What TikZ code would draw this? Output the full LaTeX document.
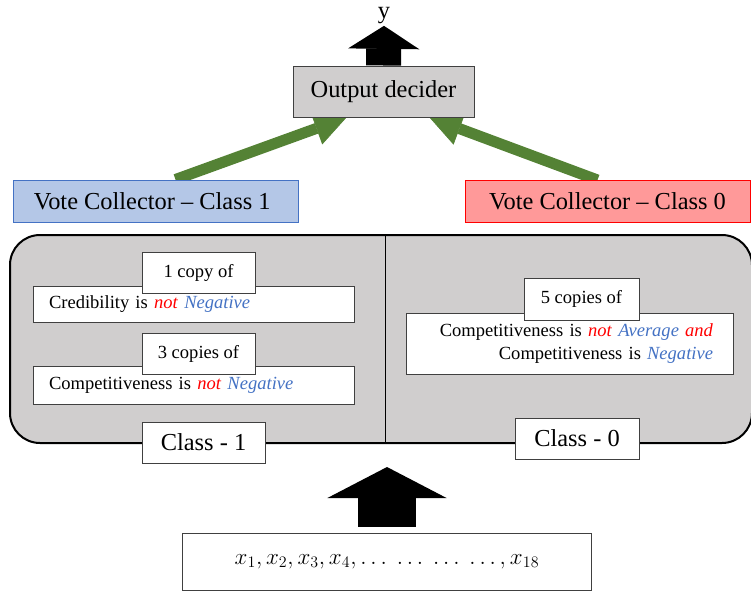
\documentclass[tikz,border=0pt]{standalone}
\usepackage{fontspec}
\setmainfont{Liberation Serif}
\usetikzlibrary{arrows.meta,backgrounds}

\definecolor{panelgray}{HTML}{D0CECE}
\definecolor{boxedge}{HTML}{404040}
\definecolor{vcblue}{HTML}{B4C7E7}
\definecolor{vcblueedge}{HTML}{4472C4}
\definecolor{vcred}{HTML}{FF9999}
\definecolor{vcrededge}{HTML}{FF0000}
\definecolor{arrowgreen}{HTML}{548235}
\definecolor{valblue}{HTML}{4472C4}

\newcommand{\bigtext}{\fontsize{18.3}{22}\selectfont}
\newcommand{\smalltext}{\fontsize{13.9}{17.25}\selectfont}
\newcommand{\notword}{\textcolor{red}{\textit{not}}}
\newcommand{\valword}[1]{\textcolor{valblue}{\textit{#1}}}

\tikzset{
  labelbox/.style={draw=boxedge, fill=white, line width=0.75pt, inner sep=0pt, minimum height=30.75pt, font=\smalltext},
  stmtbox/.style={draw=boxedge, fill=white, line width=0.75pt, inner xsep=12pt, inner ysep=0pt, text width=216.75pt, align=left, font=\smalltext},
  classbox/.style={draw=boxedge, fill=white, line width=0.75pt, inner sep=0pt, minimum width=92.25pt, minimum height=30.75pt, font=\bigtext},
  votebox/.style={draw=#1edge, fill=#1, line width=0.75pt, minimum width=213.75pt, minimum height=31.5pt, font=\bigtext},
  greenarrow/.style={draw=arrowgreen, line width=8.25pt, -{Triangle[length=24pt,width=25.5pt,line width=0.5pt]}}
}

\begin{document}
\begin{tikzpicture}[x=0.75pt,y=-0.75pt]
\useasboundingbox (0,0) rectangle (751,594);
% Output side
\node[font=\bigtext, inner sep=0pt] (yout) at (384,16) {y};
\node[draw=boxedge, fill=panelgray, line width=0.75pt, minimum width=135.75pt, minimum height=38.25pt, font=\bigtext] (dec) at (383.5,91.5) {Output decider};
\draw[line width=26.25pt, -{Triangle[length=17.25pt,width=53.25pt,line width=1pt]}, shorten >=1pt] (dec.north) -- (yout.south);
% Votes into the decider
\node[votebox=vcblue] (vc1) at (155.5,201) {Vote Collector -- Class 1\hspace*{5pt}};
\node[votebox=vcred] (vc0) at (607.5,201.5) {Vote Collector -- Class 0};
\begin{scope}[on background layer]
\draw[greenarrow] ([xshift=15pt]vc1.north) -- ([xshift=-27.75pt]dec.south);
\draw[greenarrow] ([xshift=-7.5pt]vc0.north) -- ([xshift=34.5pt]dec.south);
\end{scope}
% Rule panel
\node[draw, fill=panelgray, line width=1.5pt, rounded corners=22.5pt, minimum width=556.5pt, minimum height=156pt] (panel) at (381,339) {};
\draw[line width=0.75pt] ([xshift=3pt]panel.north) -- ([xshift=3pt]panel.south);
% Class 1 rules
\node[stmtbox, minimum height=27pt] (stmtA) at (193.5,304) {Credibility is \notword\ \valword{Negative}};
\node[labelbox, minimum width=84.75pt] (copyA) at (198.5,272.5) {1 copy of};
\node[stmtbox, minimum height=28.5pt] (stmtB) at (193.5,385) {Competitiveness is \notword\ \valword{Negative}};
\node[labelbox, minimum width=84.75pt] (copyB) at (198.5,353.5) {3 copies of};
% Class 0 rules
\node[stmtbox, text width=214.5pt, inner xsep=15.4pt, align=right, minimum height=45.75pt] (stmtC) at (570,343.5) {Competitiveness is \notword\ \valword{Average} \textcolor{red}{\textit{and}}\hspace*{12.75pt}\\ Competitiveness is \valword{Negative}};
\node[labelbox, minimum width=86.25pt, minimum height=31.5pt] (copyC) at (581.5,299) {5 copies of};
\node[classbox] (classA) at (203.5,442.5) {Class - 1};
\node[classbox, minimum width=93pt] (classB) at (577,438.5) {Class - 0};
% Input
\node[draw=boxedge, line width=0.75pt, fill=white, minimum width=306.75pt, minimum height=42.75pt, font=\bigtext] (inp) at (387,561.5) {$x_1, x_2, x_3, x_4, \ldots\ \ldots\ \ldots\ \ldots, x_{18}$};
\draw[line width=43.5pt, -{Triangle[length=23.25pt,width=89.25pt,line width=1pt]}, shorten <=4.5pt] (inp.north) -- ([yshift=-17.25pt]inp.north |- panel.south);
\end{tikzpicture}
\end{document}
